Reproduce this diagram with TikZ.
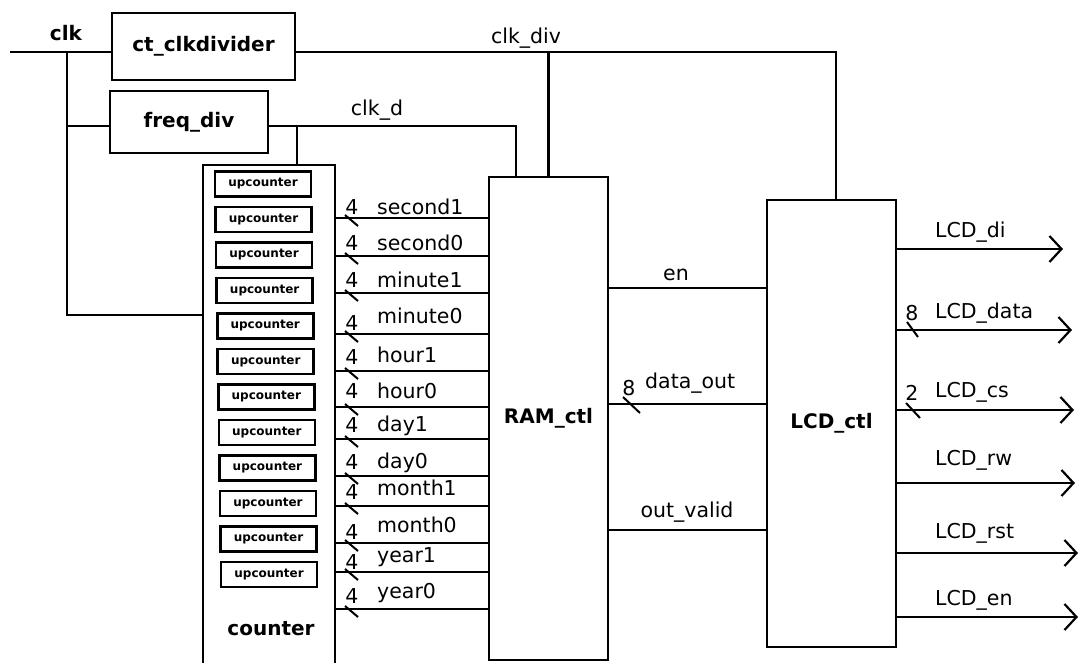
\documentclass[tikz,border=0pt]{standalone}
\usepackage{fontspec}
\setmainfont{DejaVu Sans}
\usepackage{tikz}
\usetikzlibrary{arrows.meta,calc}
\tikzset{
  block/.style={draw,line width=2.8pt,inner sep=0pt,outer sep=0pt},
  upbox/.style={draw,line width=2.6pt,minimum width=96pt,minimum height=25pt,inner sep=0pt,font=\bfseries\fontsize{12}{14}\selectfont},
  blk/.style={font=\bfseries\fontsize{20}{24}\selectfont},
  sig/.style={font=\fontsize{20.5}{24}\selectfont,inner sep=0pt,anchor=west},
  wire/.style={line width=2.2pt},
  bus/.style={line width=2pt},
  outwire/.style={wire,-{Straight Barb[length=12pt,width=26pt]}},
}
\begin{document}
\begin{tikzpicture}[x=1pt,y=-1pt]
\useasboundingbox (0,0) rectangle (1079,663);

\node[block,blk,minimum width=183pt,minimum height=67pt] (clkdiv) at (203.5,46.5) {ct\_clkdivider};
\node[block,blk,minimum width=158pt,minimum height=62pt] (freqdiv) at (189,122) {freq\_div};
\node[block,minimum width=132pt,minimum height=540pt] (counter) at (269,435) {};
\node[blk] (cntlbl) at (271,629) {counter};
\node[block,blk,minimum width=119pt,minimum height=483pt] (ram) at (548.5,418.5) {RAM\_ctl};
\node[block,blk,minimum width=129pt,minimum height=447pt] (lcd) at (831.5,423.5) {LCD\_ctl};
\foreach \i in {0,...,11}
  \node[upbox] (up\i) at (263+0.55*\i,184+35.5*\i) {upcounter};

\node[blk] (clklbl) at (66,33) {clk};
\coordinate (clkin) at (10,52);
\coordinate (clkj) at (67,52);
\coordinate (cntin) at (counter.west |- 0,315);
\coordinate (divj) at (ram.north |- clkin);
\coordinate (clkdin) at ([xshift=27pt]ram.north west);
\coordinate (cntclk) at ([xshift=94pt]counter.north west);

\draw[wire] (clkin) -- (clkin -| clkdiv.west);
\draw[wire] (clkj) |- (cntin);
\draw[wire] (clkj |- 0,126) -- (freqdiv.west |- 0,126);
\draw[wire] (clkin -| clkdiv.east) -| ([xshift=4.5pt]lcd.north);
\draw[wire] (divj) -- (ram.north);
\draw[wire] (freqdiv.east |- 0,126) -| (clkdin);
\draw[wire] (cntclk |- 0,126) -- (cntclk);
\node[sig,anchor=center] (clkdivlbl) at (526,38) {clk\_div};
\node[sig,anchor=center] (clkdlbl) at (377,110) {clk\_d};

\foreach \y/\sig/\dn/\dd in {218/second1/11/11,256/second0/13/13,293/minute1/13/13,334/minute0/18/11,
  371/hour1/16/14,407/hour0/16/16,439/day1/13/14,476/day0/13/14,506/month1/18/14,543/month0/18/11,
  572/year1/15/10,609/year0/16/13}
{
  \draw[wire] (counter.east |- 0,\y) -- (ram.west |- 0,\y);
  \draw[bus] (345,\y-3) -- (358,\y+8);
  \node[sig,anchor=center] (w\sig) at (352,\y-\dd) {4};
  \node[sig] (n\sig) at (377,\y-\dn) {\sig};
}

\draw[wire] (ram.east |- 0,288) -- (lcd.west |- 0,288);
\node[sig,anchor=center] (enlbl) at (676,275) {en};
\draw[wire] (lcd.west |- 0,404) -- (ram.east |- 0,404);
\draw[bus] (623,397) -- (640,413);
\node[sig,anchor=center] (dow) at (629,388) {8};
\node[sig] (dolbl) at (645,383) {data\_out};
\draw[wire] (ram.east |- 0,530) -- (lcd.west |- 0,530);
\node[sig,anchor=center] (ovlbl) at (687,512) {out\_valid};

\foreach \y/\tip/\sig/\dn in {249/1063/di/17,330/1072/data/17,410/1074/cs/18,
  483/1075/rw/23,553/1078/rst/20,617/1078/en/17}
{
  \coordinate (o\sig) at (\tip,\y);
  \draw[outwire] (lcd.east |- o\sig) -- (o\sig);
  \node[sig] (l\sig) at (935,\y-\dn) {LCD\_\sig};
}
\draw[bus] (907,322) -- (918,337);
\node[sig,anchor=center] (dataw) at (912,313) {8};
\draw[bus] (906,403) -- (920,418);
\node[sig,anchor=center] (csw) at (912,393) {2};

\end{tikzpicture}
\end{document}
